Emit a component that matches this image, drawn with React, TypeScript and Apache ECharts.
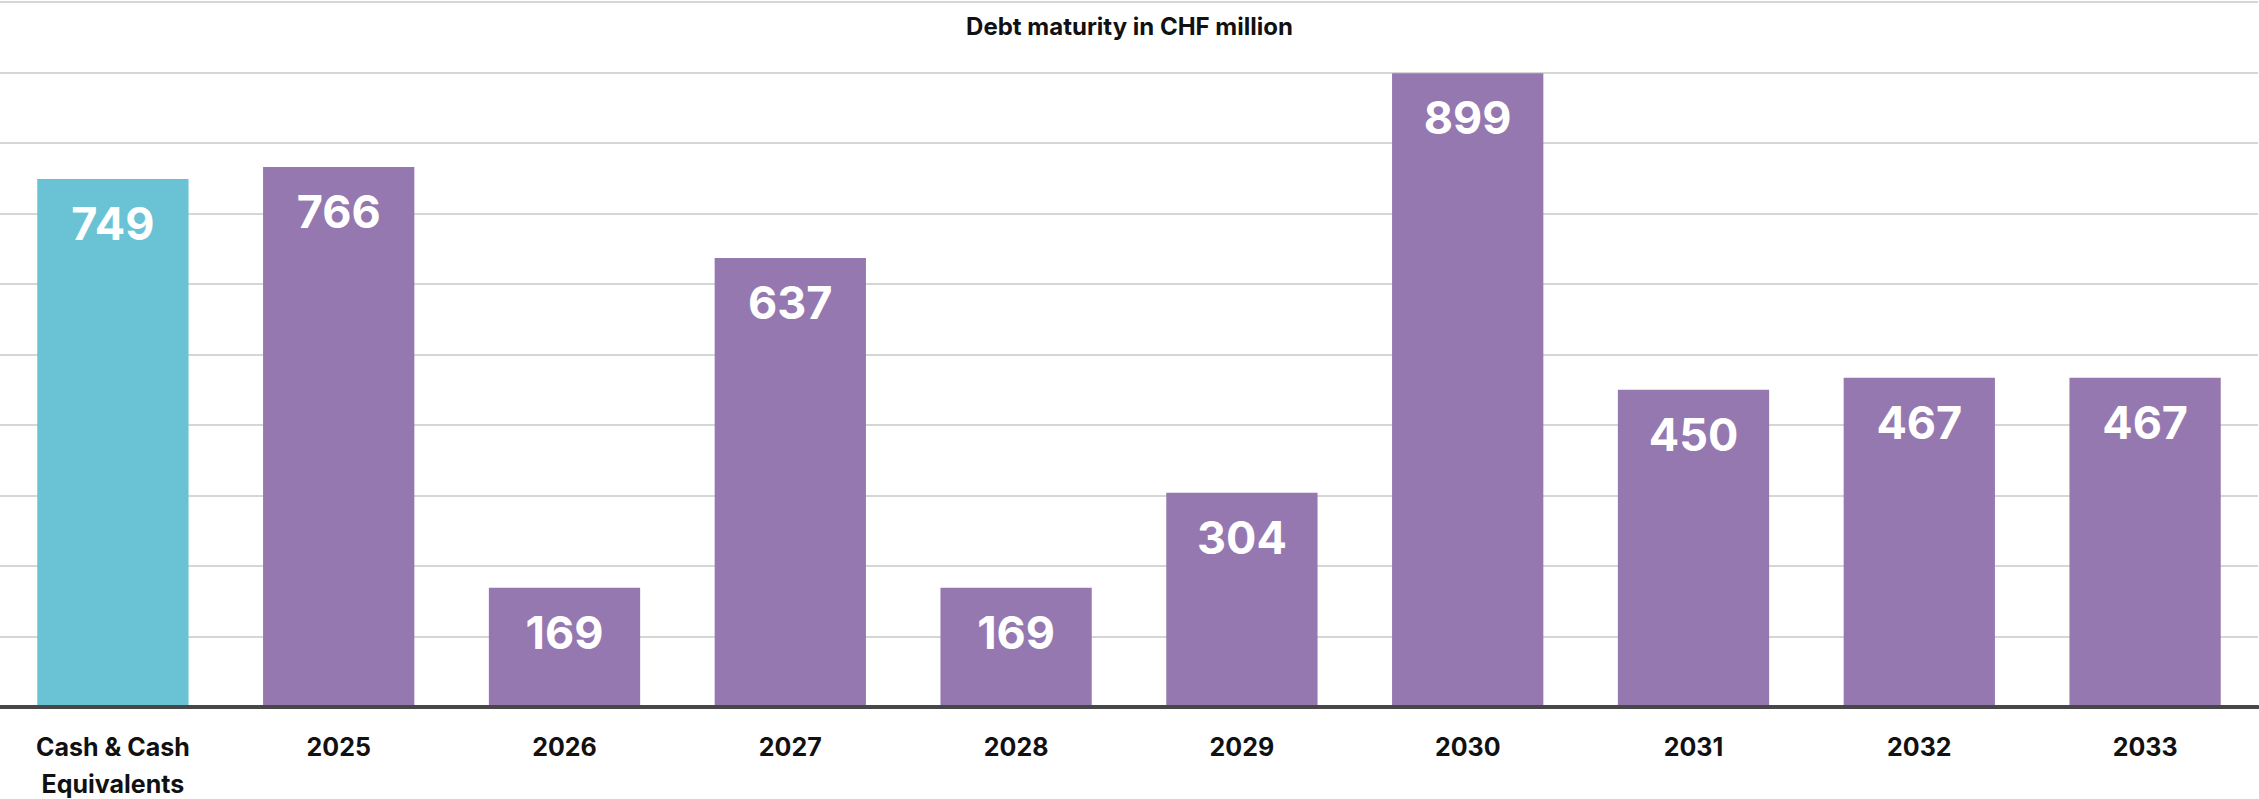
import React, { useEffect, useRef } from "react";
import * as echarts from "echarts";

const categories = ["Cash & Cash\nEquivalents", "2025", "2026", "2027", "2028", "2029", "2030", "2031", "2032", "2033"];
const values = [749, 766, 169, 637, 169, 304, 899, 450, 467, 467];
const barColors = ["#69C3D4", "#9678B0", "#9678B0", "#9678B0", "#9678B0", "#9678B0", "#9678B0", "#9678B0", "#9678B0", "#9678B0"];
const titleText = "Debt maturity in CHF million";

export default function App() {
  const ref = useRef<HTMLDivElement>(null);
  useEffect(() => {
    if (!ref.current) return;
    const chart = echarts.init(ref.current, null, { renderer: "svg" });
    chart.setOption({
      animation: false,
      backgroundColor: "#ffffff",
      title: {
        text: titleText,
        left: "center",
        top: 9,
        textStyle: { fontFamily: "Inter", fontWeight: "bold", fontSize: 24, color: "#111111" },
      },
      grid: { left: 0, right: 1, top: 2, bottom: 92, containLabel: false, outerBoundsMode: "none" },
      xAxis: {
        type: "category",
        data: categories,
        axisLine: { show: true, lineStyle: { color: "#474747", width: 4 } },
        axisTick: { show: false },
        axisLabel: {
          interval: 0,
          margin: 21,
          fontFamily: "Inter",
          fontWeight: "bold",
          fontSize: 25,
          lineHeight: 37,
          color: "#111111",
        },
        z: 10,
      },
      yAxis: {
        type: "value",
        min: 0,
        max: 1000,
        interval: 100,
        axisLabel: { show: false },
        axisLine: { show: false },
        axisTick: { show: false },
        splitLine: { show: true, lineStyle: { color: "#d6d6d6", width: 2 } },
      },
      series: [
        {
          type: "bar",
          barWidth: "67%",
          data: values.map((v, i) => ({ value: v, itemStyle: { color: barColors[i] } })),
          label: {
            show: true,
            position: "insideTop",
            distance: 22,
            color: "#ffffff",
            fontFamily: "Inter",
            fontWeight: "bold",
            fontSize: 45,
          },
        },
      ],
    });
    return () => chart.dispose();
  }, []);
  return <div ref={ref} style={{ position: "absolute", left: 0, top: 0, width: 2259, height: 799 }} />;
}
